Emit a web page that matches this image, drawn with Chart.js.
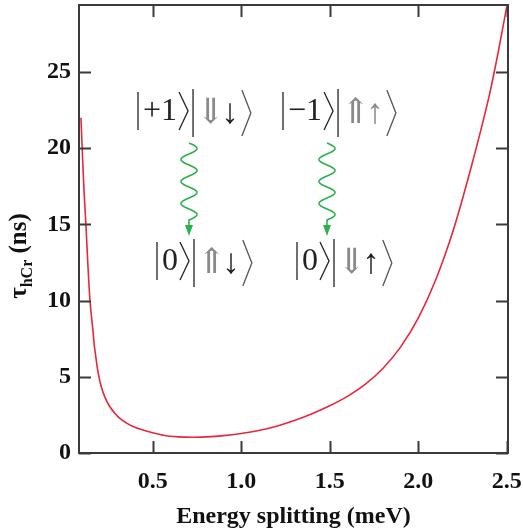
<!DOCTYPE html>
<html>
<head>
<meta charset="utf-8">
<script src="https://cdn.jsdelivr.net/npm/chart.js@4.4.1/dist/chart.umd.min.js"></script>
<style>
  html, body { margin: 0; padding: 0; background: #fff; }
  #wrap { width: 523px; height: 531px; }
</style>
</head>
<body>
<div id="wrap"><canvas id="Chart1" width="523" height="531"></canvas></div>
<script>
// energy splitting (meV) and lifetime tau_hCr (ns)
const energy = [0.095, 0.102, 0.112, 0.123, 0.134, 0.146, 0.155, 0.163, 0.170, 0.178, 0.186, 0.195, 0.21, 0.229,
  0.255, 0.285, 0.315, 0.351, 0.39, 0.436, 0.50, 0.568, 0.643, 0.72, 0.80, 0.90, 1.00, 1.10, 1.20,
  1.30, 1.40, 1.50, 1.60, 1.70, 1.80, 1.90, 2.00, 2.10, 2.20, 2.30, 2.40, 2.45, 2.50];
const tau = [22.0, 20.0, 17.3, 15.0, 12.4, 10.0, 8.9, 8.0, 7.1, 6.4, 5.7, 5.1, 4.35, 3.7,
  3.1, 2.63, 2.27, 1.98, 1.74, 1.54, 1.33, 1.15, 1.06, 1.03, 1.06, 1.14, 1.28, 1.48, 1.76,
  2.13, 2.58, 3.1, 3.72, 4.5, 5.55, 6.95, 8.85, 11.4, 14.7, 18.8, 23.4, 26.2, 29.3];
const xTicks = [0.5, 1.0, 1.5, 2.0, 2.5];
const yTicks = [0, 5, 10, 15, 20, 25];

const serif = '"Liberation Serif", "Times New Roman", "DejaVu Serif", serif';
const frameColor = '#3a3a3a';
const waveGreen = '#2bb24c';

function wavyArrow(ctx, x, y0, y1) {
  const amp = 8, wl = 22, tailEnd = y1 - 10;
  ctx.save();
  ctx.strokeStyle = waveGreen;
  ctx.fillStyle = waveGreen;
  ctx.lineWidth = 1.6;
  ctx.beginPath();
  for (let y = y0; y <= tailEnd - 6; y += 0.5) {
    const px = x + amp * Math.sin((y - y0) / wl * 2 * Math.PI);
    if (y === y0) ctx.moveTo(px, y); else ctx.lineTo(px, y);
  }
  ctx.lineTo(x, tailEnd);
  ctx.stroke();
  ctx.beginPath();
  ctx.moveTo(x, y1);
  ctx.lineTo(x - 4, tailEnd - 1);
  ctx.lineTo(x + 4, tailEnd - 1);
  ctx.closePath();
  ctx.fill();
  ctx.restore();
}

function bracket(ctx, x, ym, h) {
  ctx.beginPath();
  ctx.moveTo(x, ym - h);
  ctx.lineTo(x + 9, ym);
  ctx.lineTo(x, ym + h);
  ctx.stroke();
}

function vbar(ctx, x, ym, h) {
  ctx.beginPath();
  ctx.moveTo(x, ym - h);
  ctx.lineTo(x, ym + h);
  ctx.stroke();
}

// |label>|spins>
function ket(ctx, x, ym, label, spins) {
  ctx.save();
  ctx.strokeStyle = '#222';
  ctx.lineWidth = 1.3;
  ctx.font = '32px ' + serif;
  ctx.textBaseline = 'middle';
  ctx.textAlign = 'left';
  vbar(ctx, x, ym - 1, 19);
  ctx.fillStyle = '#222';
  ctx.fillText(label, x + 5, ym);
  let cx = x + 5 + ctx.measureText(label).width + 2;
  bracket(ctx, cx, ym - 1, 19);
  cx += 14;
  vbar(ctx, cx, ym + 1, 24);
  cx += 3;
  ctx.font = '35px ' + serif;
  spins.forEach(s => {
    ctx.fillStyle = s[1];
    ctx.fillText(s[0], cx, ym + 2);
    cx += ctx.measureText(s[0]).width - 4;
  });
  cx += 7;
  ctx.strokeStyle = '#555';
  bracket(ctx, cx, ym + 1, 23);
  ctx.restore();
}

const annot = {
  id: 'annot',
  afterDraw(chart) {
    const ctx = chart.ctx;
    const a = chart.chartArea;
    const xs = chart.scales.x, ys = chart.scales.y;
    ctx.save();
    // frame with inward ticks
    ctx.strokeStyle = frameColor;
    ctx.lineWidth = 2;
    ctx.strokeRect(a.left, a.top, a.right - a.left, a.bottom - a.top);
    ctx.beginPath();
    xTicks.forEach(v => {
      const px = Math.round(xs.getPixelForValue(v)) + 0.5;
      ctx.moveTo(px, a.bottom); ctx.lineTo(px, a.bottom - 12);
      ctx.moveTo(px, a.top); ctx.lineTo(px, a.top + 12);
    });
    yTicks.forEach(v => {
      const py = Math.round(ys.getPixelForValue(v)) + 0.5;
      ctx.moveTo(a.left, py); ctx.lineTo(a.left + 12, py);
      ctx.moveTo(a.right, py); ctx.lineTo(a.right - 12, py);
    });
    ctx.stroke();

    // y title with subscript
    ctx.translate(20, 256);
    ctx.rotate(-Math.PI / 2);
    ctx.fillStyle = '#111';
    ctx.textBaseline = 'alphabetic';
    const big = 'bold 25px ' + serif, small = 'bold 16px ' + serif;
    ctx.font = big; const w1 = ctx.measureText('\u03c4').width;
    ctx.font = small; const w2 = ctx.measureText('hCr').width;
    ctx.font = big; const w3 = ctx.measureText(' (ns)').width;
    let tx = -(w1 + w2 + w3) / 2;
    ctx.font = big; ctx.fillText('\u03c4', tx, 6); tx += w1;
    ctx.font = small; ctx.fillText('hCr', tx, 12); tx += w2;
    ctx.font = big; ctx.fillText(' (ns)', tx, 6);
    ctx.restore();

    // transition diagrams
    const grey = '#8a8a8a', dark = '#222';
    ket(ctx, 138, 112, '+1', [['\u21d3', grey], ['\u2193', dark]]);
    ket(ctx, 283, 112, '\u22121', [['\u21d1', grey], ['\u2191', grey]]);
    ket(ctx, 157, 262, '0', [['\u21d1', grey], ['\u2193', dark]]);
    ket(ctx, 297, 262, '0', [['\u21d3', grey], ['\u2191', dark]]);
    wavyArrow(ctx, 189, 143, 236);
    wavyArrow(ctx, 327, 143, 236);
  }
};

const ctx = document.getElementById('Chart1').getContext('2d');
const config = {
  type: 'scatter',
  data: {
    datasets: [{
      data: energy.map((e, i) => ({ x: e, y: tau[i] })),
      showLine: true,
      borderColor: '#e8283a',
      borderWidth: 1.6,
      pointRadius: 0,
      cubicInterpolationMode: 'monotone',
      fill: false
    }]
  },
  options: {
    responsive: false,
    maintainAspectRatio: false,
    animation: false,
    layout: { padding: { top: 5, right: 15, left: 0, bottom: 0 } },
    plugins: { legend: { display: false }, tooltip: { enabled: false } },
    scales: {
      x: {
        type: 'linear',
        min: 0.084,
        max: 2.507,
        afterBuildTicks: (s) => { s.ticks = xTicks.map(v => ({ value: v })); },
        afterFit: (s) => { s.height = 78; s.paddingLeft = 0; s.paddingRight = 0; },
        grid: { display: false, drawTicks: false },
        border: { display: false },
        ticks: {
          padding: 14,
          color: '#111',
          font: { family: serif, size: 24, weight: 'bold' },
          callback: (v) => v.toFixed(1)
        },
        title: {
          display: true,
          text: 'Energy splitting (meV)',
          color: '#111',
          font: { family: serif, size: 24, weight: 'bold' },
          padding: { top: 0, bottom: 0 }
        }
      },
      y: {
        min: 0,
        max: 29.4,
        afterBuildTicks: (s) => { s.ticks = yTicks.map(v => ({ value: v })); },
        afterFit: (s) => { s.width = 79; s.paddingTop = 0; s.paddingBottom = 0; },
        grid: { display: false, drawTicks: false },
        border: { display: false },
        ticks: {
          padding: 8,
          color: '#111',
          font: { family: serif, size: 24, weight: 'bold' }
        }
      }
    }
  },
  plugins: [annot]
};
var myChart1 = new Chart(ctx, config);
</script>
</body>
</html>
